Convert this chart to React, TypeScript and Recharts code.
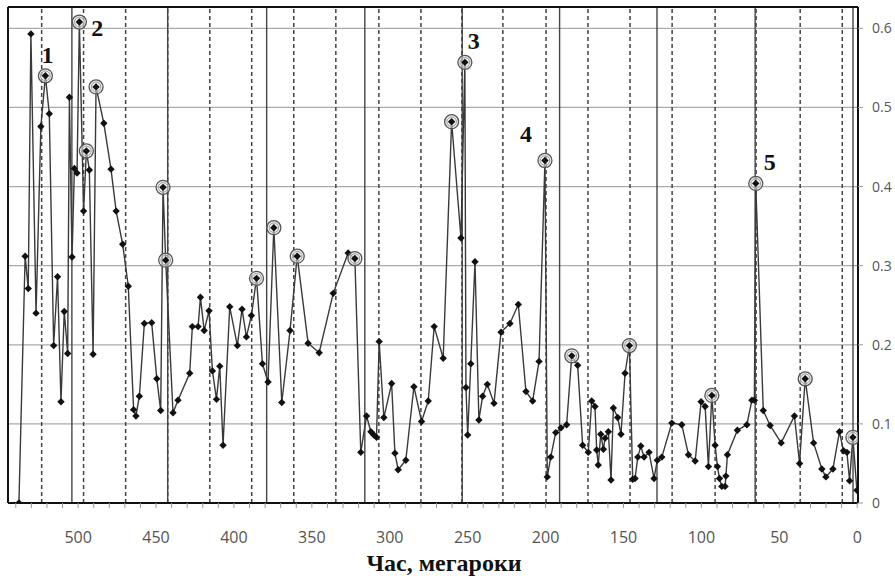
import { LineChart, Line, XAxis, YAxis, CartesianGrid, ReferenceLine } from "recharts"

// age in Myr (read left to right), value on the right axis
const ages = [
  538, 534, 532, 530.3, 527, 523.9, 521, 518.5, 515.7, 513.2, 511, 508.9, 506.7, 505.6, 503.9, 502.4,
  500.7, 499.2, 496.5, 494.7, 492.8, 490.4, 488.5, 483.5, 478.9, 475.6, 471.4, 467.8, 464.4, 462.9,
  460.7, 457.5, 452.8, 449.5, 447, 445.5, 443.8, 439.1, 435.9, 428.4, 426.7, 423, 421.5, 419.1, 416,
  413.8, 411.2, 409.1, 407, 402.7, 397.8, 394.8, 392, 388.8, 385.5, 381.7, 378.1, 374.4, 369.3, 364,
  359.4, 352.4, 345.3, 336.3, 326.7, 322.4, 318.6, 314.9, 312.1, 310.2, 308.5, 306.8, 303.8, 298.8,
  296.7, 294.6, 289.7, 284.5, 279.6, 275.3, 271.5, 265.7, 260.3, 254.3, 251.8, 251.1, 250, 248, 245.3,
  242.8, 240.4, 237.4, 233.1, 228.6, 222.9, 217.5, 212.6, 208.3, 204.2, 200.4, 198.9, 196.7, 193.5,
  190.1, 186.5, 183.2, 179.4, 176.2, 172.6, 170.4, 168.3, 167.2, 166.2, 164.6, 162.9, 161.8, 159.7,
  158, 156.5, 153.7, 151.6, 149, 146.2, 144.1, 142.6, 140.8, 138.9, 136.8, 133.6, 130.4, 128.3, 125.4,
  119, 112.6, 108.3, 104, 100.2, 97.6, 95.5, 93.3, 91.2, 89.7, 88.4, 86.9, 84.8, 84.3, 83.3, 76.9,
  70.8, 67.6, 66, 65.1, 60.3, 55.9, 48.8, 40.3, 37, 33.4, 28, 22.7, 20.1, 15.6, 11.4, 8.8, 6.6, 4.9,
  2.8, 0.2,
]

const values = [
  0.0, 0.312, 0.271, 0.593, 0.24, 0.476, 0.54, 0.492, 0.199, 0.286, 0.128, 0.242, 0.189, 0.513, 0.311,
  0.423, 0.417, 0.608, 0.369, 0.445, 0.421, 0.188, 0.526, 0.48, 0.422, 0.369, 0.327, 0.274, 0.118,
  0.11, 0.135, 0.227, 0.228, 0.157, 0.117, 0.399, 0.307, 0.114, 0.13, 0.164, 0.223, 0.223, 0.26,
  0.218, 0.243, 0.167, 0.131, 0.173, 0.073, 0.248, 0.199, 0.245, 0.21, 0.237, 0.284, 0.176, 0.153,
  0.348, 0.127, 0.218, 0.312, 0.202, 0.19, 0.265, 0.316, 0.309, 0.064, 0.11, 0.09, 0.086, 0.083,
  0.204, 0.108, 0.151, 0.063, 0.042, 0.054, 0.147, 0.103, 0.129, 0.223, 0.183, 0.482, 0.335, 0.557,
  0.146, 0.086, 0.176, 0.305, 0.105, 0.135, 0.15, 0.126, 0.216, 0.227, 0.251, 0.141, 0.129, 0.179,
  0.433, 0.033, 0.058, 0.089, 0.095, 0.099, 0.186, 0.174, 0.073, 0.064, 0.129, 0.122, 0.067, 0.048,
  0.087, 0.068, 0.082, 0.09, 0.029, 0.12, 0.108, 0.087, 0.164, 0.199, 0.03, 0.031, 0.058, 0.072,
  0.058, 0.064, 0.031, 0.054, 0.058, 0.101, 0.099, 0.061, 0.053, 0.128, 0.122, 0.046, 0.136, 0.073,
  0.046, 0.031, 0.021, 0.021, 0.034, 0.061, 0.092, 0.099, 0.13, 0.13, 0.404, 0.117, 0.098, 0.076,
  0.11, 0.05, 0.157, 0.076, 0.043, 0.033, 0.043, 0.09, 0.066, 0.064, 0.028, 0.083, 0.016,
]

// points drawn with a ring
const circledAges = [
  521, 499.2, 494.7, 488.5, 445.5, 443.8, 385.5, 374.4, 359.4, 322.4, 260.3, 251.8, 200.4, 183.2,
  146.2, 93.3, 65.1, 33.4, 2.8,
]

// numbered peaks
const peakNames = ["1", "2", "3", "4", "5"]
const peakAges = [521, 499.2, 251.8, 200.4, 65.1]

// ~63 Myr (solid) and ~27 Myr (dashed) cycle lines
const solidLines = [504, 442.5, 379, 316, 253.5, 191, 128.5, 65.5, 2.7]
const dashedLines = [
  523.4, 496.5, 469.5, 442.5, 415.5, 388.6, 361.6, 334.6, 307, 280, 253.7, 227.4, 199.7, 172.8,
  145.8, 118.8, 91.2, 64.9, 36.6, 9.6,
]

const xTicks = [
  540, 530, 520, 510, 500, 490, 480, 470, 460, 450, 440, 430, 420, 410, 400, 390, 380, 370, 360, 350,
  340, 330, 320, 310, 300, 290, 280, 270, 260, 250, 240, 230, 220, 210, 200, 190, 180, 170, 160, 150,
  140, 130, 120, 110, 100, 90, 80, 70, 60, 50, 40, 30, 20, 10, 0,
]
const xLabels = [500, 450, 400, 350, 300, 250, 200, 150, 100, 50, 0]
const yTicks = [0, 0.1, 0.2, 0.3, 0.4, 0.5, 0.6]

const data = ages.map((age, i) => ({ age, value: values[i] }))

// label placement relative to the marked point (px)
const labelOffsets: Record<string, [number, number]> = {
  "1": [2, -21],
  "2": [18, 6],
  "3": [9, -21],
  "4": [-19, -26],
  "5": [14, -21],
}

const tickFont = "'Open Sans', 'Noto Sans', sans-serif"

function renderDot(props: any) {
  const { cx, cy, payload, index } = props
  const ringed = circledAges.includes(payload.age)
  const peak = peakAges.indexOf(payload.age)
  const s = 3.7
  return (
    <g key={`dot-${index}`}>
      {ringed && (
        <>
          <circle cx={cx} cy={cy} r={7} fill="#e6e6e6" fillOpacity={0.6} stroke="#555" strokeWidth={1.3} />
          <circle cx={cx} cy={cy} r={4.8} fill="none" stroke="#999" strokeWidth={1} />
        </>
      )}
      <path d={`M${cx},${cy - s}L${cx + s},${cy}L${cx},${cy + s}L${cx - s},${cy}Z`} fill="#111" />
      {peak >= 0 && (
        <text
          x={cx + labelOffsets[peakNames[peak]][0]}
          y={cy + labelOffsets[peakNames[peak]][1] + 8}
          textAnchor="middle"
          fontFamily="'Liberation Serif', 'DejaVu Serif', serif"
          fontWeight="bold"
          fontSize={24}
          fill="#111"
        >
          {peakNames[peak]}
        </text>
      )}
    </g>
  )
}

function XTick(props: any) {
  const { x, y, payload } = props
  if (!xLabels.includes(payload.value)) return <g />
  return (
    <text x={x} y={y + 33} textAnchor="middle" fontFamily={tickFont} fontSize={16} fill="#555">
      {payload.value}
    </text>
  )
}

export default function App() {
  return (
    <div style={{ position: "absolute", left: 0, top: 0, background: "#fff" }}>
      <LineChart width={895} height={576} data={data} margin={{ top: 7, right: 0, bottom: 0, left: 8 }}>
        <CartesianGrid vertical={false} stroke="#aaa" strokeWidth={1.2} />
        <XAxis
          dataKey="age"
          type="number"
          reversed
          domain={[-0.5, 545]}
          ticks={xTicks}
          interval={0}
          height={73}
          tick={<XTick />}
          tickSize={5}
          tickMargin={2}
          tickLine={{ stroke: "#999" }}
          axisLine={{ stroke: "#111", strokeWidth: 2 }}
          allowDataOverflow
          label={{
            position: "insideBottom",
            content: (p: any) => {
              const vb = p.viewBox || { x: 8, y: 503, width: 850 }
              return (
                <text
                  x={vb.x + vb.width / 2 + 11}
                  y={vb.y + 68}
                  textAnchor="middle"
                  fontFamily="'Liberation Serif', 'DejaVu Serif', serif"
                  fontWeight="bold"
                  fontSize={24}
                  fill="#111"
                >
                  Час, мегароки
                </text>
              )
            },
          }}
        />
        <YAxis
          orientation="right"
          type="number"
          domain={[0, 0.627]}
          ticks={yTicks}
          width={37}
          tickSize={5}
          tickMargin={9}
          tickLine={{ stroke: "#999" }}
          axisLine={{ stroke: "#111", strokeWidth: 2 }}
          tick={{ fontFamily: tickFont, fontSize: 14, fill: "#555", textAnchor: "start" }}
          allowDataOverflow
        />
        {dashedLines.map((v) => (
          <ReferenceLine key={`d${v}`} x={v} stroke="#444" strokeWidth={1.5} strokeDasharray="4 3" />
        ))}
        {solidLines.map((v) => (
          <ReferenceLine key={`s${v}`} x={v} stroke="#444" strokeWidth={1.4} />
        ))}
        <ReferenceLine y={0.627} stroke="#111" strokeWidth={2} />
        <ReferenceLine x={545} stroke="#111" strokeWidth={2} />
        <Line
          type="linear"
          dataKey="value"
          stroke="#3a3a3a"
          strokeWidth={1.4}
          dot={renderDot}
          activeDot={false}
          isAnimationActive={false}
        />
      </LineChart>
    </div>
  )
}
